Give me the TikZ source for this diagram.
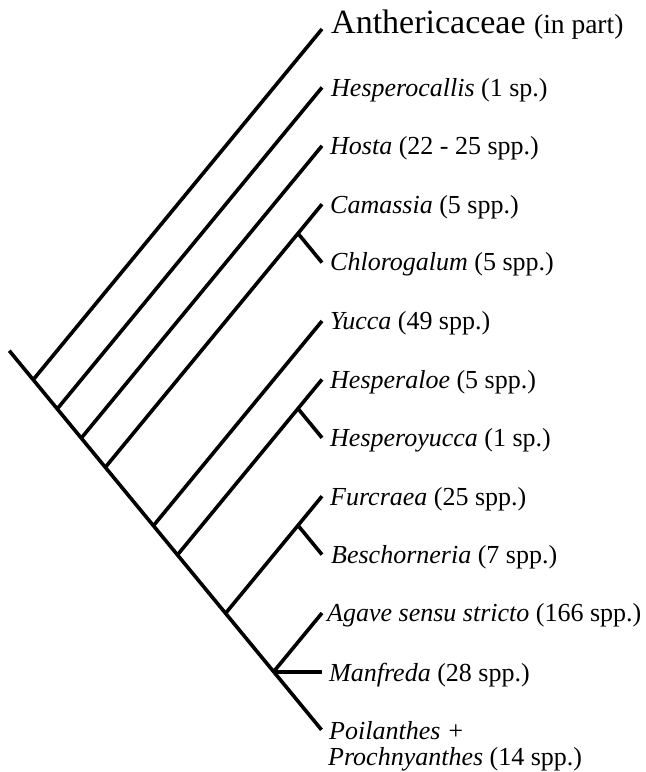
\documentclass[tikz,border=0pt]{standalone}
\usepackage{fontspec}
\setmainfont{Liberation Serif}
\begin{document}
\begin{tikzpicture}[x=1pt,y=-1pt,
  branch/.style={line width=3.6pt,line cap=butt,line join=miter},
  lab/.style={anchor=base west,inner sep=0pt,font=\fontsize{26}{26}\selectfont}]
\useasboundingbox (0,0) rectangle (646,772);
% backbone
\coordinate (R) at (9.3,350.7);
\coordinate (E) at (321.5,729.8);
\coordinate (n0) at (33.19,379.7);
\coordinate (n1) at (57.23,408.9);
\coordinate (n2) at (81.28,438.1);
\coordinate (n3) at (105.33,467.3);
\coordinate (n5) at (153.42,525.7);
\coordinate (n6) at (177.47,554.9);
\coordinate (n8) at (225.56,613.3);
\coordinate (n10) at (273.65,671.7);
% cherries
\coordinate (c3) at (298,233.4);
\coordinate (c6) at (298,408.6);
\coordinate (c8) at (298,525.4);
% tips
\coordinate (t0) at (322,29);
\coordinate (t1) at (322,87.4);
\coordinate (t2) at (322,145.8);
\coordinate (t3) at (322,204.2);
\coordinate (t4) at (322,262.6);
\coordinate (t5) at (322,321);
\coordinate (t6) at (322,379.4);
\coordinate (t7) at (322,437.8);
\coordinate (t8) at (322,496.2);
\coordinate (t9) at (322,554.6);
\coordinate (t10) at (322,613);
\coordinate (t11) at (321.5,671.7);
\draw[branch] (R) -- (n0) -- (n1) -- (n2) -- (n3) -- (n5) -- (n6) -- (n8) -- (n10) -- (E);
\draw[branch] (n0) -- (t0);
\draw[branch] (n1) -- (t1);
\draw[branch] (n2) -- (t2);
\draw[branch] (n3) -- (c3) -- (t3);
\draw[branch] (c3) -- (t4);
\draw[branch] (n5) -- (t5);
\draw[branch] (n6) -- (c6) -- (t6);
\draw[branch] (c6) -- (t7);
\draw[branch] (n8) -- (c8) -- (t8);
\draw[branch] (c8) -- (t9);
\draw[branch] (n10) -- (t10);
\draw[branch] (n10) -- (t11);
% labels
\node[anchor=base west,inner sep=0pt] (L0) at (331,33.3) {\fontsize{34}{34}\selectfont Anthericaceae \fontsize{27.5}{27.5}\selectfont(in part)};
\node[lab] (L1) at (331,96.2) {\textit{Hesperocallis} (1 sp.)};
\node[lab] (L2) at (330,154.5) {\textit{Hosta} (22 - 25 spp.)};
\node[lab] (L3) at (330,213) {\textit{Camassia} (5 spp.)};
\node[lab] (L4) at (330,270.5) {\textit{Chlorogalum} (5 spp.)};
\node[lab] (L5) at (330,329.5) {\textit{Yucca} (49 spp.)};
\node[lab] (L6) at (330,388) {\textit{Hesperaloe} (5 spp.)};
\node[lab] (L7) at (330,446) {\textit{Hesperoyucca} (1 sp.)};
\node[lab] (L8) at (330,505) {\textit{Furcraea} (25 spp.)};
\node[lab] (L9) at (331,563) {\textit{Beschorneria} (7 spp.)};
\node[lab] (L10) at (327,621.7) {\textit{Agave sensu stricto} (166 spp.)};
\node[lab] (L11) at (329,681.7) {\textit{Manfreda} (28 spp.)};
\node[lab] (L12) at (329,739.3) {\textit{Poilanthes +}};
\node[lab] (L12b) at (328,765) {\textit{Prochnyanthes} (14 spp.)};
\end{tikzpicture}
\end{document}
